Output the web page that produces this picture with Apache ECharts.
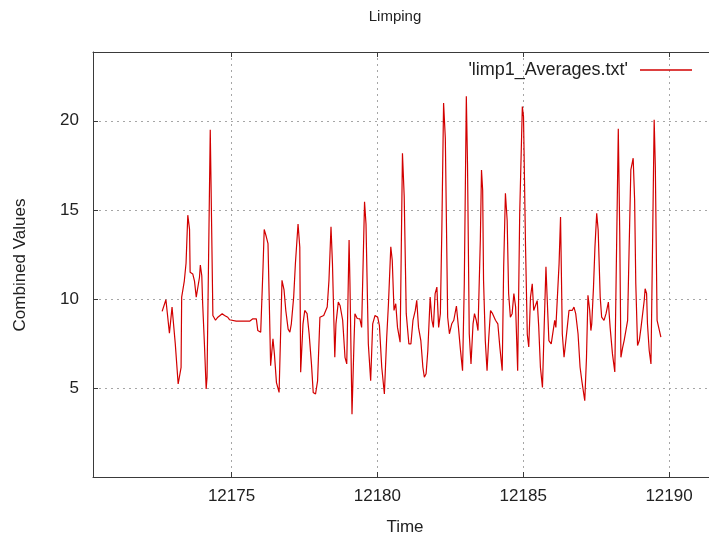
<!DOCTYPE html>
<html>
<head>
<meta charset="utf-8">
<script src="https://cdn.jsdelivr.net/npm/echarts@6/dist/echarts.min.js"></script>
<style>
  html, body { margin: 0; padding: 0; background: #fff; }
  #chart { width: 709px; height: 538px; }
</style>
</head>
<body>
<div id="chart"></div>
<script>
// values, time on x and combined value on y
const times = [
  12172.62, 12172.75, 12172.79, 12172.87, 12172.96, 12173.00, 12173.07, 12173.17, 12173.21, 12173.27,
  12173.29, 12173.38, 12173.44, 12173.50, 12173.56, 12173.58, 12173.67, 12173.73, 12173.79, 12173.85,
  12173.90, 12173.93, 12173.98, 12174.01, 12174.07, 12174.13, 12174.16, 12174.27, 12174.30, 12174.36,
  12174.45, 12174.53, 12174.68, 12174.76, 12174.87, 12174.93, 12174.99, 12175.16, 12175.62, 12175.73,
  12175.79, 12175.85, 12175.90, 12176.00, 12176.08, 12176.12, 12176.19, 12176.25, 12176.31, 12176.34,
  12176.42, 12176.47, 12176.54, 12176.63, 12176.73, 12176.80, 12176.86, 12176.94, 12177.00, 12177.05,
  12177.13, 12177.19, 12177.28, 12177.34, 12177.37, 12177.45, 12177.51, 12177.59, 12177.66, 12177.74,
  12177.80, 12177.88, 12177.95, 12178.03, 12178.09, 12178.16, 12178.28, 12178.34, 12178.41, 12178.46,
  12178.54, 12178.58, 12178.66, 12178.72, 12178.81, 12178.89, 12178.95, 12179.03, 12179.06, 12179.13,
  12179.20, 12179.23, 12179.31, 12179.40, 12179.46, 12179.56, 12179.61, 12179.69, 12179.77, 12179.84,
  12179.92, 12180.01, 12180.07, 12180.15, 12180.24, 12180.32, 12180.38, 12180.46, 12180.51, 12180.57,
  12180.63, 12180.69, 12180.78, 12180.86, 12180.92, 12180.99, 12181.08, 12181.15, 12181.22, 12181.30,
  12181.35, 12181.41, 12181.49, 12181.56, 12181.61, 12181.67, 12181.73, 12181.81, 12181.87, 12181.92,
  12181.98, 12182.04, 12182.10, 12182.16, 12182.21, 12182.27, 12182.33, 12182.41, 12182.47, 12182.55,
  12182.62, 12182.71, 12182.78, 12182.84, 12182.92, 12182.98, 12183.05, 12183.09, 12183.15, 12183.21,
  12183.28, 12183.33, 12183.39, 12183.45, 12183.53, 12183.57, 12183.61, 12183.64, 12183.70, 12183.76,
  12183.82, 12183.88, 12183.95, 12184.05, 12184.13, 12184.20, 12184.28, 12184.33, 12184.39, 12184.45,
  12184.50, 12184.56, 12184.62, 12184.68, 12184.74, 12184.81, 12184.88, 12184.97, 12185.01, 12185.08,
  12185.14, 12185.19, 12185.25, 12185.31, 12185.36, 12185.42, 12185.48, 12185.53, 12185.59, 12185.66,
  12185.72, 12185.78, 12185.82, 12185.88, 12185.96, 12186.02, 12186.08, 12186.12, 12186.17, 12186.23,
  12186.28, 12186.34, 12186.40, 12186.45, 12186.51, 12186.57, 12186.63, 12186.68, 12186.74, 12186.80,
  12186.88, 12186.95, 12187.01, 12187.05, 12187.11, 12187.17, 12187.22, 12187.28, 12187.32, 12187.35,
  12187.41, 12187.46, 12187.52, 12187.57, 12187.64, 12187.69, 12187.77, 12187.84, 12187.92, 12187.98,
  12188.06, 12188.14, 12188.20, 12188.26, 12188.31, 12188.35, 12188.41, 12188.46, 12188.52, 12188.58,
  12188.63, 12188.69, 12188.77, 12188.82, 12188.86, 12188.92, 12188.98, 12189.04, 12189.09, 12189.15,
  12189.18, 12189.23, 12189.26, 12189.32, 12189.38, 12189.44, 12189.49, 12189.53, 12189.59, 12189.67,
  12189.72
];
const values = [
  9.3, 9.95, 9.9, 8.07, 9.54, 8.8, 7.5, 5.22, 5.3, 6.16,
  10.1, 11.0, 12.0, 14.7, 13.9, 11.5, 11.4, 11.0, 10.1, 10.0,
  11.2, 11.9, 11.3, 9.73, 7.47, 4.94, 5.6, 19.5, 16.1, 9.07,
  8.8, 8.97, 9.17, 9.07, 8.97, 8.83, 8.8, 8.75, 8.75, 8.88,
  8.97, 8.88, 8.22, 8.13, 11.8, 13.9, 13.5, 13.1, 8.6, 6.25,
  7.76, 6.9, 5.3, 4.75, 11.04, 10.5, 9.35, 8.3, 8.13, 8.6,
  10.1, 12.0, 14.2, 12.9, 5.88, 8.6, 9.35, 9.17, 8.04, 6.35,
  4.75, 4.66, 5.4, 8.97, 8.9, 9.07, 9.54, 11.04, 14.05, 11.98,
  6.72, 8.6, 9.82, 9.63, 8.8, 6.72, 6.35, 13.3, 10.85, 3.53,
  7.66, 9.17, 8.9, 8.88, 8.4, 15.45, 14.2, 7.47, 5.4, 8.6,
  9.07, 8.97, 8.5, 6.16, 4.66, 7.85, 9.73, 12.92, 12.17, 9.35,
  9.73, 8.4, 7.57, 18.18, 15.74, 9.17, 7.47, 7.47, 8.79, 9.35,
  9.92, 8.4, 7.66, 6.16, 5.6, 5.8, 7.1, 10.1, 8.8, 8.4,
  10.3, 10.66, 8.4, 9.17, 13.86, 21.0, 19.0, 8.97, 8.04, 8.6,
  8.8, 9.6, 8.4, 7.28, 5.97, 10.85, 21.37, 17.6, 8.04, 6.35,
  8.6, 9.17, 8.8, 8.22, 13.3, 17.24, 16.1, 11.04, 7.66, 5.97,
  7.85, 9.35, 9.17, 8.8, 8.6, 7.28, 5.97, 11.8, 15.93, 14.4,
  10.3, 8.97, 9.17, 10.3, 9.54, 5.97, 14.8, 20.8, 20.24, 12.92,
  8.0, 7.3, 10.1, 10.85, 9.35, 9.4, 9.9, 8.5, 6.16, 5.03,
  8.5, 11.8, 10.1, 7.66, 7.47, 7.38, 8.79, 8.4, 8.5, 11.98,
  14.6, 8.04, 6.72, 7.47, 8.4, 9.35, 9.45, 9.35, 9.54, 9.17,
  8.04, 6.16, 5.4, 5.3, 4.28, 6.72, 10.2, 9.35, 8.22, 8.6,
  10.66, 12.92, 14.8, 13.86, 10.1, 8.97, 8.79, 9.17, 9.82, 8.4,
  6.91, 5.9, 12.73, 19.55, 13.67, 6.72, 7.28, 7.66, 8.22, 8.79,
  12.73, 17.24, 17.9, 15.55, 10.85, 7.38, 7.66, 8.4, 8.4, 9.92,
  10.57, 10.3, 8.6, 7.1, 6.35, 13.67, 20.06, 17.4, 8.79, 8.22,
  7.85
];

const xMin = 12170.25, xMax = 12191.37;
const yMin = 0, yMax = 23.86;

const font = "Liberation Sans, Arial, sans-serif";
const axisColor = "#3a3a3a";
const gridLine = { show: true, lineStyle: { color: "#a6a6a6", type: [2, 4], width: 1 } };

const chart = echarts.init(document.getElementById("chart"));
chart.setOption({
  backgroundColor: "#fff",
  animation: false,
  grid: { left: 93, right: 0, top: 52, bottom: 61 },
  legend: {
    right: 12,
    top: 56,
    align: "right",
    icon: "rect",
    itemWidth: 52,
    itemHeight: 1.4,
    textStyle: { fontFamily: font, fontSize: 18, color: "#222", padding: [0, 7, 0, 0] },
    data: ["'limp1_Averages.txt'"]
  },
  graphic: [
    { type: "text", x: 395, y: 17, style: { text: "Limping", font: "15px " + font, fill: "#222", align: "center", verticalAlign: "middle" } },
    { type: "text", x: 405, y: 527, style: { text: "Time", font: "17px " + font, fill: "#222", align: "center", verticalAlign: "middle" } },
    { type: "text", x: 20, y: 265, rotation: Math.PI / 2, style: { text: "Combined Values", font: "17px " + font, fill: "#222", align: "center", verticalAlign: "middle" } }
  ],
  xAxis: [
    {
      type: "value",
      min: xMin,
      max: xMax,
      splitNumber: 5,
      axisLine: { show: true, lineStyle: { color: axisColor, width: 1 } },
      axisTick: { show: true, inside: true, length: 5, lineStyle: { color: axisColor } },
      axisLabel: {
        margin: 11, fontFamily: font, fontSize: 17, color: "#222",
        showMinLabel: false, showMaxLabel: false,
        formatter: v => String(v)
      },
      splitLine: gridLine
    },
    {
      type: "value",
      position: "top",
      min: xMin,
      max: xMax,
      splitNumber: 5,
      axisLine: { show: true, lineStyle: { color: axisColor, width: 1 } },
      axisTick: { show: true, inside: true, length: 5, lineStyle: { color: axisColor } },
      axisLabel: { show: false },
      splitLine: { show: false }
    }
  ],
  yAxis: {
    type: "value",
    min: yMin,
    max: yMax,
    interval: 5,
    axisLine: { show: true, lineStyle: { color: axisColor, width: 1 } },
    axisTick: { show: true, inside: true, length: 5, lineStyle: { color: axisColor } },
    axisLabel: { margin: 14, fontFamily: font, fontSize: 17, color: "#222", showMinLabel: false, showMaxLabel: false },
    splitLine: gridLine
  },
  series: [
    {
      name: "'limp1_Averages.txt'",
      type: "line",
      xAxisIndex: 0,
      showSymbol: false,
      symbol: "none",
      lineStyle: { color: "#d20000", width: 1.2 },
      itemStyle: { color: "#d20000" },
      data: times.map((t, i) => [t, values[i]])
    }
  ]
});
</script>
</body>
</html>
